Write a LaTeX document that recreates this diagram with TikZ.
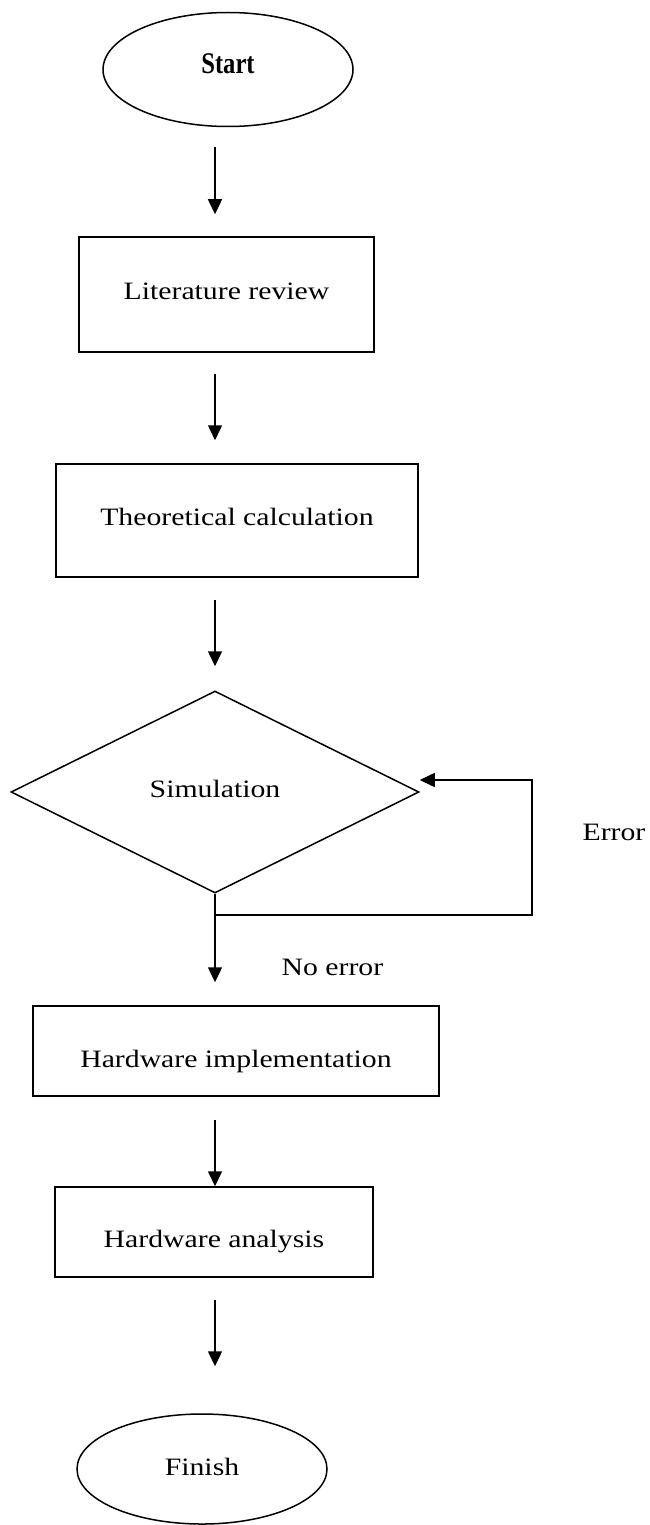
\documentclass[tikz,border=0pt]{standalone}
\usepackage{fontspec}
\setmainfont{Liberation Serif}[FakeStretch=1.19]
\newfontfamily\startfont{Liberation Serif}[FakeStretch=0.82]
\usetikzlibrary{shapes.geometric,arrows.meta,calc}
\begin{document}
\begin{tikzpicture}[x=1pt,y=-1pt,
  every node/.style={inner sep=0pt, font=\fontsize{25}{30}\selectfont},
  shapeline/.style={draw, line width=1.5pt},
  terminal/.style={shapeline, ellipse, minimum width=250pt, minimum height=114pt},
  process/.style={shapeline, rectangle},
  decision/.style={shapeline, diamond, minimum width=408pt, minimum height=202pt},
  flow/.style={line width=1.5pt, -{Triangle[length=15pt,width=14pt]}},
  flowlabel/.style={anchor=base}
]
\useasboundingbox (0,0) rectangle (649,1525);

% column of the vertical connectors
\coordinate (spine) at (215,0);

% terminals, steps and the decision
\node[terminal, text height=9pt, text depth=0pt,
      font=\startfont\bfseries\fontsize{30}{36}\selectfont] (start) at (228,69.5) {Start};
\node[process, minimum width=295pt, minimum height=115pt,
      text height=9pt, text depth=0pt] (lit) at (226.5,294.5) {Literature review};
\node[process, minimum width=362pt, minimum height=113pt,
      text height=9pt, text depth=0pt] (theo) at (237,520.5) {Theoretical calculation};
\node[decision, text height=10pt, text depth=0pt] (sim) at (215,792) {Simulation};
\node[process, minimum width=406pt, minimum height=90pt,
      text height=32pt, text depth=0pt] (hwi) at (236,1051) {Hardware implementation};
\node[process, minimum width=318pt, minimum height=90pt,
      text height=30pt, text depth=0pt] (hwa) at (214,1232) {Hardware analysis};
\node[terminal, minimum height=110pt, text height=12pt, text depth=0pt] (finish) at (202,1469) {Finish};

% branch labels
\node[flowlabel] (errlbl) at (614,840) {Error};
\node[flowlabel] (oklbl) at (332.5,975) {No error};

% connectors
\draw[flow] ($(start.south -| spine)+(0,20)$) -- ($(lit.north -| spine)+(0,-22)$);
\draw[flow] ($(lit.south -| spine)+(0,21)$) -- ($(theo.north -| spine)+(0,-23)$);
\draw[flow] ($(theo.south -| spine)+(0,22)$) -- ($(sim.north -| spine)+(0,-24)$);
\draw[flow] (sim.south) -- ($(hwi.north -| sim.south)+(0,-23)$);
\draw[flow] ($(hwi.south -| spine)+(0,23)$) -- (hwa.north -| spine);
\draw[flow] ($(hwa.south -| spine)+(0,22)$) -- ($(finish.north -| spine)+(0,-47)$);

% error loop back into the simulation
\coordinate (loopcorner) at (532,915);
\draw[flow] (sim.south) |- (loopcorner) |- ($(sim.east)+(0,-12)$);
\end{tikzpicture}
\end{document}
